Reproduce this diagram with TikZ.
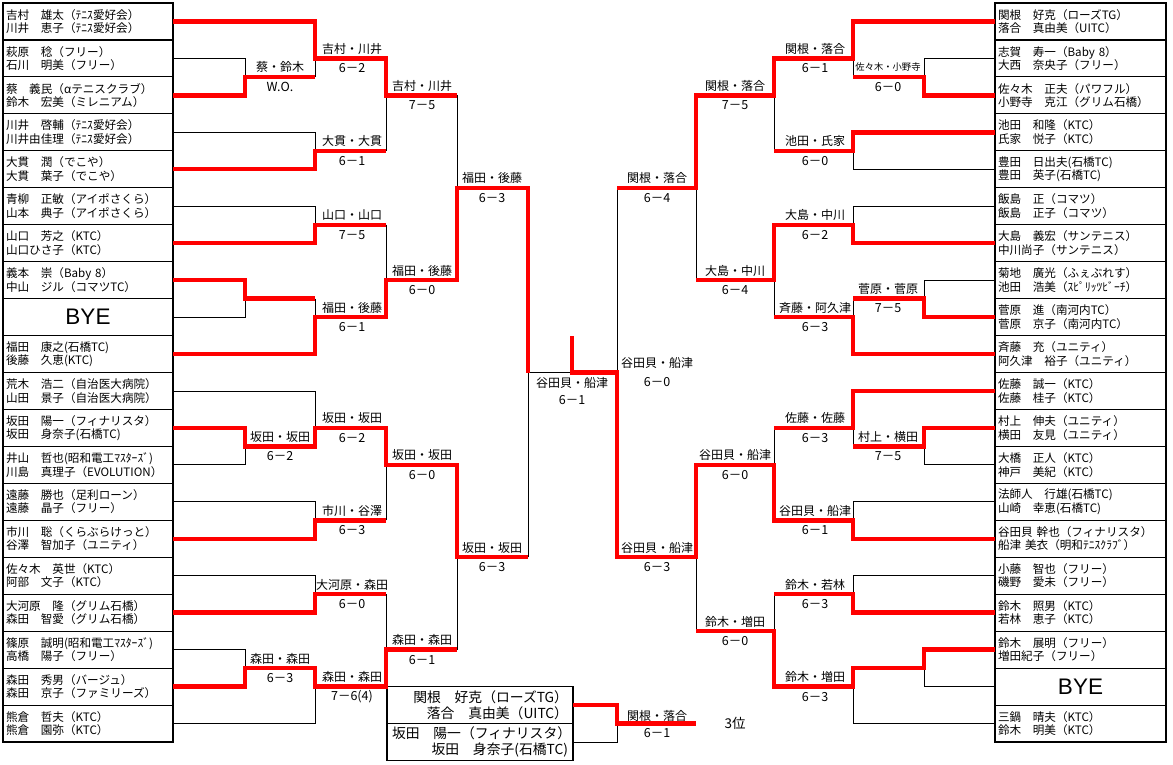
\documentclass[tikz,border=0pt]{standalone}
\usepackage{fontspec}
\setmainfont{Noto Sans CJK JP}
\newfontfamily\byefont{Liberation Sans}
\tikzset{
 box/.style={draw, line width=1.1pt, minimum width=170pt, minimum height=36.95pt, text width=164pt, align=left, inner xsep=3pt, inner ysep=0pt, outer sep=0pt, font=\fontsize{11.6}{13.5}\selectfont},
 rbox/.style={box, minimum width=171pt, text width=165pt},
 byebox/.style={box, align=center, font=\byefont\fontsize{22.5}{24}\selectfont},
 rbyebox/.style={rbox, align=center, font=\byefont\fontsize{22.5}{24}\selectfont},
 tbox/.style={draw, line width=1.1pt, minimum width=186pt, minimum height=36.95pt, text width=176pt, align=right, inner xsep=5pt, inner ysep=0pt, outer sep=0pt, font=\fontsize{13.8}{16}\selectfont},
 win/.style={draw=red, line width=4.4pt, line join=miter},
 lose/.style={draw=black, line width=0.9pt},
 mlab/.style={inner sep=0pt, font=\fontsize{12}{14}\selectfont},
 msc/.style={inner sep=0pt, font=\fontsize{12.5}{14}\selectfont},
}
\newcommand\ml[5]{%
 \node[mlab, yshift=9.5pt] (#1n) at (#2,#3) {#4};
 \node[msc, yshift=-10pt] (#1s) at (#2,#3) {#5};}
\begin{document}
\begin{tikzpicture}[x=1pt, y=-18.475pt, shift={(0pt,-3pt)}]
\useasboundingbox (0,-0.16238) rectangle (1173,41.1908);
% ---------- left column ----------
\node[box] (L1) at (88,1) {吉村　雄太（ﾃﾆｽ愛好会）\\川井　恵子（ﾃﾆｽ愛好会）};
\node[box] (L2) at (88,3) {萩原　稔（フリー）\\石川　明美（フリー）};
\node[box] (L3) at (88,5) {蔡　義民（αテニスクラブ）\\鈴木　宏美（ミレニアム）};
\node[box] (L4) at (88,7) {川井　啓輔（ﾃﾆｽ愛好会）\\川井由佳理（ﾃﾆｽ愛好会）};
\node[box] (L5) at (88,9) {大貫　潤（でこや）\\大貫　葉子（でこや）};
\node[box] (L6) at (88,11) {青柳　正敏（アイポさくら）\\山本　典子（アイポさくら）};
\node[box] (L7) at (88,13) {山口　芳之（KTC）\\山口ひさ子（KTC）};
\node[box] (L8) at (88,15) {義本　崇（Baby 8）\\中山　ジル（コマツTC）};
\node[byebox] (L9) at (88,17) {BYE};
\node[box] (L10) at (88,19) {福田　康之(石橋TC)\\後藤　久恵(KTC)};
\node[box] (L11) at (88,21) {荒木　浩二（自治医大病院）\\山田　景子（自治医大病院）};
\node[box] (L12) at (88,23) {坂田　陽一（フィナリスタ）\\坂田　身奈子(石橋TC)};
\node[box] (L13) at (88,25) {井山　哲也(昭和電工ﾏｽﾀｰｽﾞ)\\川島　真理子（EVOLUTION）};
\node[box] (L14) at (88,27) {遠藤　勝也（足利ローン）\\遠藤　晶子（フリー）};
\node[box] (L15) at (88,29) {市川　聡（くらぶらけっと）\\谷澤　智加子（ユニティ）};
\node[box] (L16) at (88,31) {佐々木　英世（KTC）\\阿部　文子（KTC）};
\node[box] (L17) at (88,33) {大河原　隆（グリム石橋）\\森田　智愛（グリム石橋）};
\node[box] (L18) at (88,35) {篠原　誠明(昭和電工ﾏｽﾀｰｽﾞ)\\高橋　陽子（フリー）};
\node[box] (L19) at (88,37) {森田　秀男（バージュ）\\森田　京子（ファミリーズ）};
\node[box] (L20) at (88,39) {熊倉　哲夫（KTC）\\熊倉　園弥（KTC）};
% ---------- right column ----------
\node[rbox] (R1) at (1080.5,1) {関根　好克（ローズTG）\\落合　真由美（UITC）};
\node[rbox] (R2) at (1080.5,3) {志賀　寿一（Baby 8）\\大西　奈央子（フリー）};
\node[rbox] (R3) at (1080.5,5) {佐々木　正夫（パワフル）\\小野寺　克江（グリム石橋）};
\node[rbox] (R4) at (1080.5,7) {池田　和隆（KTC）\\氏家　悦子（KTC）};
\node[rbox] (R5) at (1080.5,9) {豊田　日出夫(石橋TC)\\豊田　英子(石橋TC)};
\node[rbox] (R6) at (1080.5,11) {飯島　正（コマツ）\\飯島　正子（コマツ）};
\node[rbox] (R7) at (1080.5,13) {大島　義宏（サンテニス）\\中川尚子（サンテニス）};
\node[rbox] (R8) at (1080.5,15) {菊地　廣光（ふぇぶれす）\\池田　浩美（ｽﾋﾟﾘｯﾂﾋﾞｰﾁ）};
\node[rbox] (R9) at (1080.5,17) {菅原　進（南河内TC）\\菅原　京子（南河内TC）};
\node[rbox] (R10) at (1080.5,19) {斉藤　充（ユニティ）\\阿久津　裕子（ユニティ）};
\node[rbox] (R11) at (1080.5,21) {佐藤　誠一（KTC）\\佐藤　桂子（KTC）};
\node[rbox] (R12) at (1080.5,23) {村上　伸夫（ユニティ）\\横田　友見（ユニティ）};
\node[rbox] (R13) at (1080.5,25) {大橋　正人（KTC）\\神戸　美紀（KTC）};
\node[rbox] (R14) at (1080.5,27) {法師人　行雄(石橋TC)\\山崎　幸恵(石橋TC)};
\node[rbox] (R15) at (1080.5,29) {谷田貝 幹也（フィナリスタ）\\船津 美衣（明和ﾃﾆｽｸﾗﾌﾞ）};
\node[rbox] (R16) at (1080.5,31) {小藤　智也（フリー）\\磯野　愛未（フリー）};
\node[rbox] (R17) at (1080.5,33) {鈴木　照男（KTC）\\若林　恵子（KTC）};
\node[rbox] (R18) at (1080.5,35) {鈴木　展明（フリー）\\増田紀子（フリー）};
\node[rbyebox] (R19) at (1080.5,37) {BYE};
\node[rbox] (R20) at (1080.5,39) {三鍋　晴夫（KTC）\\鈴木　明美（KTC）};
% ---------- third place boxes ----------
\node[tbox] (T1) at (480,38) {関根　好克（ローズTG）\\落合　真由美（UITC）};
\node[tbox] (T2) at (480,40) {坂田　陽一（フィナリスタ）\\坂田　身奈子(石橋TC)};
% ---------- junctions ----------
\coordinate (lA1) at (245,4);  \coordinate (lA2) at (245,16);
\coordinate (lA3) at (245,24); \coordinate (lA4) at (245,36);
\coordinate (lB1) at (315,3);  \coordinate (lB2) at (315,8);
\coordinate (lB3) at (315,12); \coordinate (lB4) at (315,17);
\coordinate (lB5) at (315,23); \coordinate (lB6) at (315,28);
\coordinate (lB7) at (315,32); \coordinate (lB8) at (315,37);
\coordinate (lC1) at (386,5);  \coordinate (lC2) at (386,15);
\coordinate (lC3) at (386,25); \coordinate (lC4) at (386,35);
\coordinate (lD1) at (457,10); \coordinate (lD2) at (457,30);
\coordinate (lE) at (528,20);
\coordinate (fin) at (572,20); \coordinate (top) at (572,18);
\coordinate (rE) at (617,20);
\coordinate (rD1) at (696,10); \coordinate (rD2) at (696,30);
\coordinate (rC1) at (774,5);  \coordinate (rC2) at (774,15);
\coordinate (rC3) at (774,25); \coordinate (rC4) at (774,34);
\coordinate (rB1) at (853,3);  \coordinate (rB2) at (853,8);
\coordinate (rB3) at (853,12); \coordinate (rB4) at (853,17);
\coordinate (rB5) at (853,23); \coordinate (rB6) at (853,28);
\coordinate (rB7) at (853,32); \coordinate (rB8) at (853,37);
\coordinate (rA1) at (924,4);  \coordinate (rA2) at (924,16);
\coordinate (rA3) at (924,24); \coordinate (rA4) at (924,36);
\coordinate (tJ) at (617,39);  \coordinate (tEnd) at (696,39);
% ---------- black (losing) lines ----------
\draw[lose] (L2.east) -| (lA1);  \draw[lose] (L9.east) -| (lA2);
\draw[lose] (L13.east) -| (lA3); \draw[lose] (L18.east) -| (lA4);
\draw[lose] (L4.east) -| (lB2);  \draw[lose] (L6.east) -| (lB3);
\draw[lose] (L11.east) -| (lB5); \draw[lose] (L14.east) -| (lB6);
\draw[lose] (L16.east) -| (lB7); \draw[lose] (L20.east) -| (lB8);
\draw[lose] (lB1 |- lA1) -- (lB1); \draw[lose] (lB4 |- lA2) -- (lB4);
\draw[lose] (lC1 |- lB2) -- (lC1); \draw[lose] (lC2 |- lB3) -- (lC2);
\draw[lose] (lC3 |- lB6) -- (lC3); \draw[lose] (lC4 |- lB7) -- (lC4);
\draw[lose] (lD1 |- lC1) -- (lD1); \draw[lose] (lD2 |- lC4) -- (lD2);
\draw[lose] (lE |- lD2) -- (lE) -- (fin);
\draw[lose] (R2.west) -| (rA1);  \draw[lose] (R8.west) -| (rA2);
\draw[lose] (R13.west) -| (rA3); \draw[lose] (R19.west) -| (rA4);
\draw[lose] (R5.west) -| (rB2);  \draw[lose] (R6.west) -| (rB3);
\draw[lose] (R14.west) -| (rB6); \draw[lose] (R16.west) -| (rB7);
\draw[lose] (R20.west) -| (rB8);
\draw[lose] (rB1 |- rA1) -- (rB1); \draw[lose] (rB4 |- rA2) -- (rB4);
\draw[lose] (rB5 |- rA3) -- (rB5); \draw[lose] (rC1 |- rB2) -- (rC1);
\draw[lose] (rC2 |- rB4) -- (rC2); \draw[lose] (rC3 |- rB5) -- (rC3);
\draw[lose] (rC4 |- rB7) -- (rC4); \draw[lose] (rD1 |- rC2) -- (rD1);
\draw[lose] (rD2 |- rC4) -- (rD2); \draw[lose] (rE |- rD1) -- (rE);
\draw[lose] (T2.east) -| (tJ);
% ---------- red (winning) lines ----------
\draw[win] (L1.east) -| (lB1) -| (lC1) -- (lD1 |- lC1);
\draw[win] (L3.east) -| (lA1) -- (lB1 |- lA1);
\draw[win] (L5.east) -| (lB2) -- (lC1 |- lB2);
\draw[win] (L7.east) -| (lB3) -- (lC2 |- lB3);
\draw[win] (L8.east) -| (lA2) -- (lB4 |- lA2);
\draw[win] (L10.east) -| (lB4) -| (lC2) -| (lD1) -| (lE);
\draw[win] (L12.east) -| (lA3) -| (lB5) -| (lC3) -| (lD2) -- (lE |- lD2);
\draw[win] (L15.east) -| (lB6) -- (lC3 |- lB6);
\draw[win] (L17.east) -| (lB7) -- (lC4 |- lB7);
\draw[win] (L19.east) -| (lA4) -| (lB8) -| (lC4) -- (lD2 |- lC4);
\draw[win] (R1.west) -| (rB1) -| (rC1) -| (rD1) -- (rE |- rD1);
\draw[win] (R3.west) -| (rA1) -- (rB1 |- rA1);
\draw[win] (R4.west) -| (rB2) -- (rC1 |- rB2);
\draw[win] (R7.west) -| (rB3) -| (rC2) -- (rD1 |- rC2);
\draw[win] (R9.west) -| (rA2) -- (rB4 |- rA2);
\draw[win] (R10.west) -| (rB4) -- (rC2 |- rB4);
\draw[win] (R11.west) -| (rB5) -- (rC3 |- rB5);
\draw[win] (R12.west) -| (rA3) -- (rB5 |- rA3);
\draw[win] (R15.west) -| (rB6) -| (rC3) -| (rD2) -| (rE) -- (fin) -- (top);
\draw[win] (R17.west) -| (rB7) -- (rC4 |- rB7);
\draw[win] (R18.west) -| (rA4) -| (rB8) -| (rC4) -- (rD2 |- rC4);
\draw[win] (T1.east) -| (tJ) -- (tEnd);
% ---------- match labels left ----------
\ml{a1}{280}{4}{蔡・鈴木}{W.O.}
\ml{a2}{352}{3}{吉村・川井}{6－2}
\ml{a3}{422}{5}{吉村・川井}{7－5}
\ml{a4}{352}{8}{大貫・大貫}{6－1}
\ml{a5}{352}{12}{山口・山口}{7－5}
\ml{a6}{352}{17}{福田・後藤}{6－1}
\ml{a7}{422}{15}{福田・後藤}{6－0}
\ml{a8}{492}{10}{福田・後藤}{6－3}
\ml{a9}{280}{24}{坂田・坂田}{6－2}
\ml{a10}{352}{23}{坂田・坂田}{6－2}
\ml{a11}{422}{25}{坂田・坂田}{6－0}
\ml{a12}{352}{28}{市川・谷澤}{6－3}
\ml{a13}{492}{30}{坂田・坂田}{6－3}
\ml{a14}{352}{32}{大河原・森田}{6－0}
\ml{a15}{280}{36}{森田・森田}{6－3}
\ml{a16}{352}{37}{森田・森田}{7－6(4)}
\ml{a17}{422}{35}{森田・森田}{6－1}
% ---------- match labels right ----------
\node[mlab, font=\fontsize{9.3}{11}\selectfont, yshift=9.5pt] (b1n) at (888,4) {佐々木・小野寺};
\node[msc, yshift=-10pt] (b1s) at (888,4) {6－0};
\ml{b2}{815}{3}{関根・落合}{6－1}
\ml{b3}{735}{5}{関根・落合}{7－5}
\ml{b4}{815}{8}{池田・氏家}{6－0}
\ml{b5}{815}{12}{大島・中川}{6－2}
\ml{b6}{888}{16}{菅原・菅原}{7－5}
\ml{b7}{815}{17}{斉藤・阿久津}{6－3}
\ml{b8}{735}{15}{大島・中川}{6－4}
\ml{b9}{657}{10}{関根・落合}{6－4}
\ml{b10}{815}{23}{佐藤・佐藤}{6－3}
\ml{b11}{888}{24}{村上・横田}{7－5}
\ml{b12}{735}{25}{谷田貝・船津}{6－0}
\ml{b13}{815}{28}{谷田貝・船津}{6－1}
\ml{b14}{815}{32}{鈴木・若林}{6－3}
\ml{b15}{815}{37}{鈴木・増田}{6－3}
\ml{b16}{735}{34}{鈴木・増田}{6－0}
\ml{b17}{657}{30}{谷田貝・船津}{6－3}
\ml{b18}{657}{20}{谷田貝・船津}{6－0}
% ---------- final & third place ----------
\node[mlab, yshift=-10.5pt] (fn) at (fin) {谷田貝・船津};
\node[msc, yshift=-27.5pt] (fs) at (fin) {6－1};
\node[mlab, yshift=8pt] (tn) at (657,39) {関根・落合};
\node[msc, yshift=-9.5pt] (ts) at (657,39) {6－1};
\node[inner sep=0pt, font=\fontsize{13.5}{15}\selectfont] (third) at (735,39) {3位};
\end{tikzpicture}
\end{document}
